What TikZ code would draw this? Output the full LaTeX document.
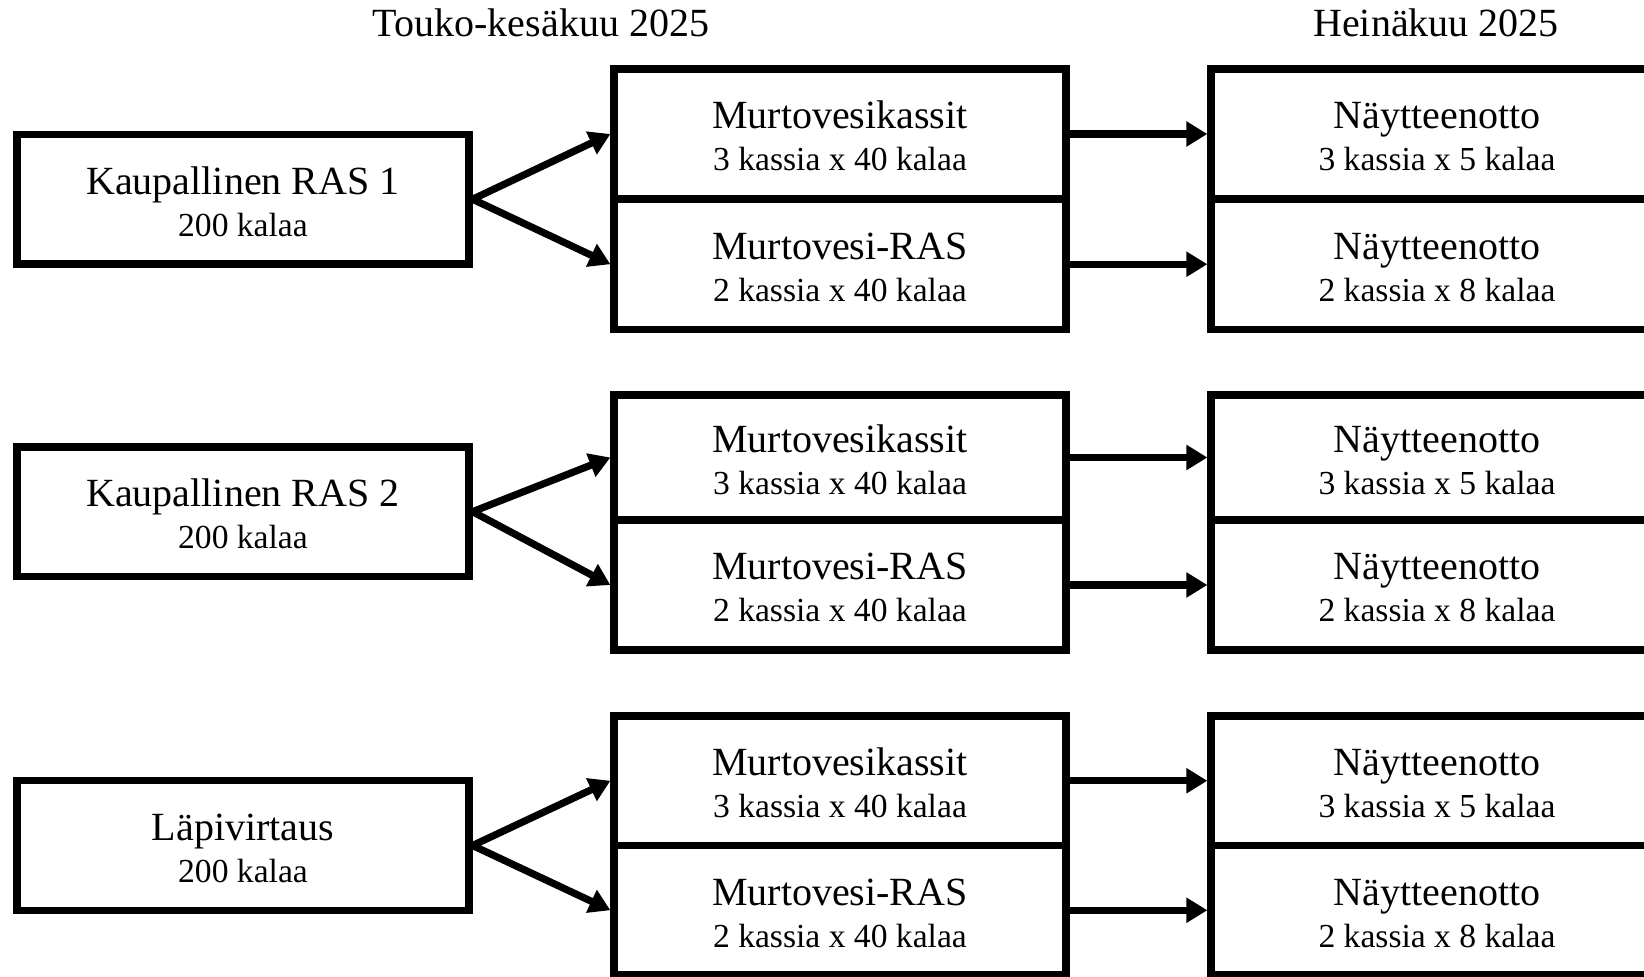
\documentclass[tikz,border=0pt]{standalone}
\usepackage{fontspec}
\setmainfont{Liberation Serif}
\usetikzlibrary{arrows.meta}
\newcommand{\sml}[1]{{\fontsize{16.8pt}{21pt}\selectfont #1}}
\newcommand{\tln}[1]{\rule{0pt}{16pt}#1}
\tikzset{
  box/.style={draw=black, line width=3.6pt, minimum width=226pt, inner sep=0pt,
              align=center, font=\fontsize{20pt}{21pt}\selectfont},
  arr/.style={line width=3.6pt, -{Triangle[length=10.5pt,width=12pt]}},
  head/.style={anchor=base, font=\fontsize{20pt}{20.5pt}\selectfont}
}
\begin{document}
\begin{tikzpicture}[x=0.5pt,y=-0.5pt]
\useasboundingbox (0,0) rectangle (1644,977);
\clip (0,0) rectangle (1644,977);

\node[head] (h1) at (541,37) {Touko-kesäkuu 2025};
\node[head] (h2) at (1436,37) {Heinäkuu 2025};

% group 1
\node[box, minimum height=64.75pt] (L1) at (243,199.25) {\tln{Kaupallinen RAS 1}\\\sml{200 kalaa}};
\node[box, minimum height=65pt] (M1a) at (840,134) {\tln{Murtovesikassit}\\\sml{3 kassia x 40 kalaa}};
\node[box, minimum height=65.25pt] (M1b) at (840,264.25) {\tln{Murtovesi-RAS}\\\sml{2 kassia x 40 kalaa}};
\node[box, minimum height=65pt] (R1a) at (1437,134) {\tln{Näytteenotto}\\\sml{3 kassia x 5 kalaa}};
\node[box, minimum height=65.25pt] (R1b) at (1437,264.25) {\tln{Näytteenotto}\\\sml{2 kassia x 8 kalaa}};

% group 2
\node[box, minimum height=64.65pt] (L2) at (243,511.7) {\tln{Kaupallinen RAS 2}\\\sml{200 kalaa}};
\node[box, minimum height=62.5pt] (M2a) at (840,457.5) {\tln{Murtovesikassit}\\\sml{3 kassia x 40 kalaa}};
\node[box, minimum height=65pt] (M2b) at (840,585) {\tln{Murtovesi-RAS}\\\sml{2 kassia x 40 kalaa}};
\node[box, minimum height=62.5pt] (R2a) at (1437,457.5) {\tln{Näytteenotto}\\\sml{3 kassia x 5 kalaa}};
\node[box, minimum height=65pt] (R2b) at (1437,585) {\tln{Näytteenotto}\\\sml{2 kassia x 8 kalaa}};

% group 3
\node[box, minimum height=65pt] (L3) at (243,845.5) {\tln{Läpivirtaus}\\\sml{200 kalaa}};
\node[box, minimum height=64.75pt] (M3a) at (840,780.75) {\tln{Murtovesikassit}\\\sml{3 kassia x 40 kalaa}};
\node[box, minimum height=64.75pt] (M3b) at (840,910.25) {\tln{Murtovesi-RAS}\\\sml{2 kassia x 40 kalaa}};
\node[box, minimum height=64.75pt] (R3a) at (1437,780.75) {\tln{Näytteenotto}\\\sml{3 kassia x 5 kalaa}};
\node[box, minimum height=64.75pt] (R3b) at (1437,910.25) {\tln{Näytteenotto}\\\sml{2 kassia x 8 kalaa}};

% connectors
\foreach \g in {1,2,3}{
  \draw[arr] (L\g.east) -- (M\g a.west);
  \draw[arr] (L\g.east) -- (M\g b.west);
  \draw[arr] (M\g a.east) -- (R\g a.west);
  \draw[arr] (M\g b.east) -- (R\g b.west);
}
\end{tikzpicture}
\end{document}
